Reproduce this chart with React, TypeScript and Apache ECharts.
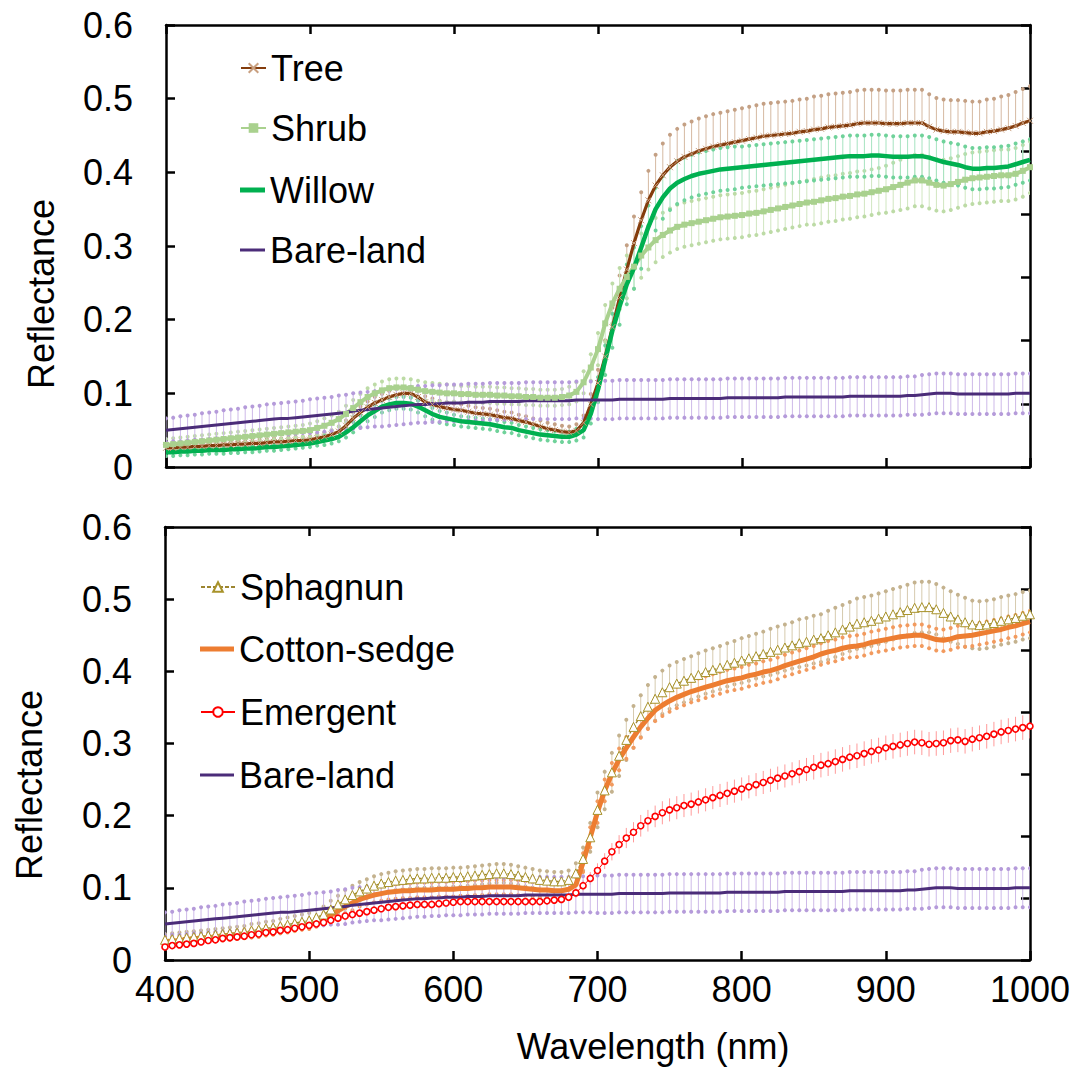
import React, { useEffect, useRef } from "react";
import * as echarts from "echarts";

// Wavelength sampling (nm)
const WL_START = 400;
const WL_STEP = 5;
const WL_COUNT = 121;
const wavelengths: number[] = Array.from({ length: WL_COUNT }, (_, i) => WL_START + i * WL_STEP);

// ---------- Top panel ----------
const treeMean = [
  .026, .026, .027, .027, .028, .028, .029, .029, .030, .030,
  .031, .031, .032, .032, .033, .034, .034, .035, .036, .036,
  .037, .039, .041, .044, .048, .056, .066, .074, .081, .087,
  .091, .095, .098, .100, .100, .095, .088, .085, .082, .080,
  .078, .077, .075, .073, .072, .071, .069, .067, .066, .063,
  .061, .058, .055, .052, .050, .048, .047, .049, .060, .085,
  .114, .150, .190, .230, .268, .304, .335, .362, .382, .396,
  .407, .415, .421, .425, .429, .432, .435, .437, .439, .441,
  .443, .445, .447, .449, .450, .451, .452, .453, .455, .456,
  .458, .459, .461, .462, .463, .464, .466, .467, .467, .467,
  .466, .466, .466, .467, .467, .467, .462, .458, .456, .455,
  .455, .454, .453, .453, .455, .456, .458, .460, .463, .467,
  .470,
];
const treeSd = [
  .004, .004, .004, .004, .004, .004, .004, .004, .004, .004,
  .004, .004, .004, .005, .005, .005, .005, .005, .005, .005,
  .005, .005, .006, .006, .007, .007, .008, .008, .008, .008,
  .008, .008, .008, .008, .008, .008, .008, .008, .008, .008,
  .008, .008, .008, .008, .008, .008, .008, .008, .008, .008,
  .008, .008, .008, .008, .008, .008, .008, .009, .010, .014,
  .018, .022, .026, .030, .033, .036, .038, .040, .042, .043,
  .044, .044, .044, .044, .044, .044, .044, .044, .044, .044,
  .044, .044, .044, .044, .044, .044, .044, .044, .044, .044,
  .045, .045, .045, .045, .045, .045, .045, .045, .045, .045,
  .045, .045, .045, .045, .045, .045, .044, .043, .043, .043,
  .043, .043, .043, .043, .044, .044, .045, .045, .046, .046,
  .047,
];
const shrubMean = [
  .030, .031, .032, .033, .034, .035, .036, .037, .038, .039,
  .040, .041, .042, .043, .044, .045, .046, .047, .048, .049,
  .050, .053, .056, .060, .065, .072, .080, .088, .095, .100,
  .104, .107, .108, .108, .107, .105, .103, .102, .101, .100,
  .100, .099, .099, .098, .098, .098, .097, .097, .096, .096,
  .095, .095, .094, .094, .094, .095, .097, .102, .115, .135,
  .160, .195, .222, .242, .258, .272, .287, .298, .308, .315,
  .321, .326, .329, .331, .333, .335, .337, .339, .340, .341,
  .342, .344, .345, .347, .349, .351, .353, .355, .357, .359,
  .360, .362, .364, .365, .367, .368, .370, .371, .373, .375,
  .377, .380, .383, .386, .389, .389, .386, .383, .382, .384,
  .387, .390, .392, .393, .394, .395, .396, .396, .398, .402,
  .407,
];
const shrubSd = [
  .008, .008, .008, .008, .008, .008, .008, .008, .008, .008,
  .008, .008, .008, .008, .008, .008, .008, .008, .008, .008,
  .009, .009, .010, .010, .010, .011, .011, .011, .012, .012,
  .012, .012, .012, .012, .012, .012, .012, .012, .012, .012,
  .011, .011, .011, .011, .011, .011, .011, .011, .011, .011,
  .011, .011, .011, .011, .011, .011, .012, .013, .015, .018,
  .022, .025, .027, .028, .029, .030, .030, .030, .030, .030,
  .030, .030, .030, .030, .030, .030, .030, .030, .030, .030,
  .030, .030, .030, .030, .030, .030, .030, .030, .030, .030,
  .031, .031, .031, .031, .031, .031, .031, .031, .031, .031,
  .032, .033, .034, .035, .035, .035, .035, .035, .035, .035,
  .035, .035, .035, .035, .035, .035, .035, .035, .035, .035,
  .035,
];
const willowMean = [
  .020, .020, .021, .021, .022, .022, .023, .023, .023, .024,
  .024, .025, .025, .026, .027, .027, .028, .029, .030, .031,
  .032, .034, .036, .038, .041, .047, .054, .062, .070, .076,
  .082, .085, .087, .087, .086, .082, .077, .072, .068, .066,
  .064, .062, .061, .060, .059, .058, .056, .054, .053, .050,
  .048, .046, .044, .043, .042, .041, .041, .044, .050, .072,
  .105, .145, .185, .218, .248, .270, .298, .326, .350, .366,
  .378, .386, .391, .395, .398, .400, .402, .404, .405, .406,
  .407, .408, .409, .410, .411, .412, .413, .414, .415, .416,
  .417, .418, .419, .420, .421, .422, .422, .422, .423, .423,
  .422, .421, .421, .421, .422, .422, .420, .417, .414, .412,
  .410, .407, .405, .405, .406, .406, .407, .408, .411, .414,
  .417,
];
const willowSd = [
  .005, .005, .005, .005, .005, .005, .005, .005, .005, .005,
  .005, .005, .005, .005, .005, .005, .005, .005, .005, .005,
  .005, .005, .006, .006, .006, .007, .007, .008, .008, .008,
  .008, .008, .008, .008, .008, .008, .008, .008, .008, .008,
  .007, .007, .007, .007, .007, .007, .007, .007, .007, .007,
  .007, .007, .007, .007, .007, .007, .007, .008, .010, .013,
  .017, .020, .023, .025, .027, .028, .029, .029, .029, .029,
  .029, .029, .029, .029, .029, .029, .029, .029, .029, .029,
  .028, .028, .028, .028, .028, .028, .028, .028, .028, .028,
  .028, .028, .028, .028, .028, .028, .028, .028, .028, .028,
  .028, .028, .028, .028, .028, .028, .028, .028, .028, .028,
  .028, .028, .028, .028, .028, .028, .028, .028, .028, .028,
  .028,
];
const bareMean = [
  .050, .051, .052, .053, .054, .055, .056, .057, .058, .059,
  .060, .061, .062, .063, .064, .065, .066, .066, .067, .068,
  .069, .070, .071, .072, .073, .074, .076, .077, .078, .079,
  .080, .081, .082, .083, .084, .085, .085, .086, .086, .087,
  .087, .087, .088, .088, .088, .089, .089, .089, .089, .089,
  .090, .090, .090, .090, .090, .090, .090, .091, .091, .091,
  .091, .091, .091, .092, .092, .092, .092, .092, .092, .092,
  .093, .093, .093, .093, .093, .093, .093, .093, .094, .094,
  .094, .094, .094, .094, .094, .094, .095, .095, .095, .095,
  .095, .095, .095, .095, .095, .096, .096, .096, .096, .096,
  .096, .096, .096, .097, .097, .098, .099, .100, .100, .100,
  .099, .099, .099, .099, .099, .099, .099, .099, .100, .100,
  .100,
];
const bareSd = [
  .016, .016, .017, .017, .017, .018, .018, .018, .019, .019,
  .019, .020, .020, .020, .021, .021, .021, .022, .022, .022,
  .023, .023, .023, .023, .024, .024, .024, .024, .024, .024,
  .025, .025, .025, .025, .025, .025, .025, .025, .025, .025,
  .025, .025, .025, .025, .025, .025, .025, .025, .025, .025,
  .025, .025, .025, .025, .025, .025, .025, .025, .025, .025,
  .026, .026, .026, .026, .026, .026, .026, .026, .026, .026,
  .026, .026, .026, .026, .026, .026, .026, .026, .026, .026,
  .026, .026, .026, .026, .026, .026, .026, .026, .026, .026,
  .026, .026, .026, .026, .026, .026, .026, .026, .026, .026,
  .026, .026, .026, .026, .026, .027, .027, .027, .027, .027,
  .027, .027, .027, .027, .027, .027, .027, .027, .027, .027,
  .027,
];

// ---------- Bottom panel ----------
const sphagMean = [
  .028, .029, .030, .031, .032, .033, .034, .035, .036, .037,
  .038, .039, .041, .042, .044, .045, .047, .049, .051, .053,
  .055, .059, .063, .070, .077, .084, .090, .095, .099, .103,
  .106, .108, .110, .111, .112, .113, .113, .114, .114, .114,
  .115, .115, .116, .117, .118, .119, .120, .120, .119, .117,
  .115, .113, .111, .110, .109, .109, .111, .120, .140, .170,
  .208, .235, .260, .283, .305, .323, .338, .351, .362, .371,
  .378, .383, .387, .391, .395, .399, .402, .405, .409, .412,
  .415, .418, .421, .424, .427, .430, .433, .436, .439, .441,
  .444, .446, .450, .454, .458, .462, .466, .468, .470, .473,
  .476, .479, .482, .485, .488, .489, .489, .486, .481, .476,
  .472, .468, .465, .464, .465, .467, .470, .472, .474, .477,
  .479,
];
const sphagSd = [
  .008, .008, .008, .008, .008, .008, .008, .008, .008, .008,
  .008, .008, .009, .009, .009, .009, .010, .010, .010, .010,
  .010, .011, .011, .012, .012, .013, .013, .013, .013, .013,
  .013, .013, .013, .013, .013, .013, .013, .013, .013, .013,
  .013, .013, .013, .013, .013, .013, .013, .013, .013, .013,
  .013, .013, .013, .013, .013, .013, .013, .014, .016, .020,
  .024, .026, .027, .028, .028, .029, .029, .030, .030, .030,
  .030, .030, .030, .030, .030, .030, .030, .030, .030, .030,
  .031, .031, .031, .031, .032, .032, .032, .032, .033, .033,
  .033, .033, .034, .034, .034, .034, .035, .035, .035, .035,
  .035, .035, .035, .035, .035, .035, .035, .035, .035, .035,
  .034, .034, .033, .033, .033, .033, .033, .033, .033, .033,
  .033,
];
const cottonMean = [
  .025, .026, .027, .028, .029, .030, .031, .032, .033, .034,
  .035, .036, .037, .038, .040, .041, .043, .044, .046, .048,
  .050, .053, .057, .062, .068, .074, .079, .084, .087, .090,
  .092, .094, .095, .096, .096, .097, .097, .097, .098, .098,
  .098, .099, .099, .100, .100, .101, .101, .101, .101, .100,
  .099, .098, .097, .097, .096, .096, .098, .104, .135, .170,
  .205, .235, .258, .278, .294, .309, .323, .335, .346, .353,
  .359, .364, .368, .372, .375, .378, .381, .384, .387, .389,
  .391, .394, .396, .399, .401, .404, .408, .411, .414, .417,
  .420, .424, .427, .429, .432, .434, .435, .437, .440, .442,
  .444, .446, .448, .449, .450, .450, .447, .444, .443, .445,
  .448, .449, .450, .452, .454, .456, .458, .461, .463, .466,
  .469,
];
const cottonSd = [
  .006, .006, .006, .006, .006, .006, .006, .006, .006, .006,
  .006, .006, .006, .006, .006, .006, .006, .006, .006, .006,
  .007, .007, .008, .008, .009, .009, .010, .010, .010, .010,
  .010, .010, .010, .010, .010, .010, .010, .010, .010, .010,
  .010, .010, .010, .010, .010, .010, .010, .010, .010, .010,
  .010, .010, .010, .010, .010, .010, .010, .011, .013, .014,
  .015, .015, .015, .015, .015, .015, .015, .015, .015, .015,
  .015, .015, .015, .015, .015, .015, .015, .015, .015, .015,
  .015, .015, .015, .015, .015, .015, .015, .015, .015, .015,
  .015, .015, .015, .015, .015, .015, .015, .015, .015, .015,
  .015, .015, .015, .015, .015, .015, .015, .015, .015, .015,
  .015, .015, .015, .015, .015, .015, .015, .015, .015, .015,
  .015,
];
const emergMean = [
  .018, .020, .021, .022, .023, .025, .027, .028, .030, .031,
  .032, .033, .035, .036, .038, .039, .041, .042, .044, .046,
  .048, .050, .052, .055, .058, .061, .063, .065, .067, .069,
  .071, .073, .074, .075, .076, .077, .077, .077, .078, .079,
  .080, .081, .081, .081, .081, .081, .081, .081, .081, .081,
  .081, .081, .081, .082, .083, .084, .087, .093, .103, .113,
  .124, .137, .150, .160, .169, .177, .186, .193, .199, .204,
  .208, .211, .214, .216, .219, .222, .225, .228, .231, .234,
  .237, .240, .243, .246, .249, .252, .255, .258, .261, .264,
  .267, .270, .272, .275, .278, .281, .283, .286, .289, .291,
  .294, .296, .298, .300, .302, .301, .299, .300, .301, .304,
  .305, .303, .306, .308, .310, .313, .316, .318, .320, .322,
  .324,
];
const emergSd = [
  .004, .004, .004, .004, .004, .004, .004, .004, .004, .004,
  .004, .004, .004, .004, .004, .004, .004, .004, .004, .004,
  .004, .005, .005, .005, .005, .005, .005, .005, .005, .005,
  .005, .005, .005, .005, .005, .005, .005, .005, .005, .005,
  .005, .005, .005, .005, .005, .005, .005, .005, .005, .005,
  .005, .005, .005, .005, .005, .005, .006, .007, .008, .009,
  .010, .011, .012, .013, .014, .014, .015, .015, .015, .016,
  .016, .016, .016, .016, .016, .016, .016, .016, .016, .016,
  .016, .016, .016, .016, .016, .016, .016, .016, .016, .016,
  .017, .017, .017, .017, .017, .017, .017, .017, .017, .017,
  .017, .017, .017, .017, .017, .017, .017, .017, .017, .017,
  .017, .017, .017, .017, .017, .017, .017, .017, .017, .017,
  .017,
];

const FONT = '"Liberation Sans", Arial, Helvetica, sans-serif';
const FS = 36;

function pts(vals: number[]) {
  return wavelengths.map((w, i) => [w, vals[i]]);
}

function errSeries(mean: number[], sd: number[], axis: number, color: string, capColor: string, plusOnly: boolean, caps: boolean) {
  return {
    type: "custom",
    xAxisIndex: axis,
    yAxisIndex: axis,
    silent: true,
    clip: true,
    encode: { x: 0, y: [1, 2] },
    data: wavelengths.map((w, i) => [w, plusOnly ? mean[i] : mean[i] - sd[i], mean[i] + sd[i]]),
    renderItem: (params: any, api: any) => {
      const x = api.value(0);
      const lo = api.coord([x, api.value(1)]);
      const hi = api.coord([x, api.value(2)]);
      const children: any[] = [
        { type: "line", shape: { x1: lo[0], y1: lo[1], x2: hi[0], y2: hi[1] }, style: { stroke: color, lineWidth: 1 } },
      ];
      if (caps) {
        children.push({ type: "circle", shape: { cx: hi[0], cy: hi[1], r: 2 }, style: { fill: capColor } });
        if (!plusOnly) children.push({ type: "circle", shape: { cx: lo[0], cy: lo[1], r: 2 }, style: { fill: capColor } });
      }
      return { type: "group", children };
    },
  };
}

function lineSeries(name: string, vals: number[], axis: number, extra: any) {
  return {
    type: "line",
    name,
    xAxisIndex: axis,
    yAxisIndex: axis,
    data: pts(vals),
    showAllSymbol: true,
    symbol: "none",
    ...extra,
  };
}

function xAxisDef(grid: number, position: string, labels: boolean) {
  return {
    gridIndex: grid,
    type: "value",
    min: 400,
    max: 1000,
    interval: 100,
    position,
    axisLine: { show: true, onZero: false, lineStyle: { color: "#000", width: 2.5 } },
    axisTick: { show: true, inside: true, length: 9, lineStyle: { color: "#000", width: 2.5 } },
    axisLabel: { show: labels, fontSize: FS, color: "#000", fontFamily: FONT, margin: 11, formatter: (v: number) => String(v) },
    splitLine: { show: false },
  };
}

function yAxisDef(grid: number, position: string, labels: boolean, max: number) {
  return {
    gridIndex: grid,
    type: "value",
    min: 0,
    max,
    interval: 0.1,
    position,
    axisLine: { show: true, onZero: false, lineStyle: { color: "#000", width: 2.5 } },
    axisTick: { show: true, inside: true, length: 9, lineStyle: { color: "#000", width: 2.5 } },
    axisLabel: {
      show: labels,
      fontSize: FS,
      color: "#000",
      fontFamily: FONT,
      margin: 33,
      formatter: (v: number) => (Math.abs(v) < 1e-9 ? "0" : v.toFixed(1)),
    },
    splitLine: { show: false },
  };
}

function legendDef(name: string, left: number, top: number, itemWidth: number, icon?: string, itemHeight?: number) {
  return {
    data: [icon ? { name, icon } : name],
    left,
    top,
    orient: "vertical",
    itemWidth,
    itemHeight: itemHeight ?? 12,
    padding: 0,
    itemGap: 0,
    selectedMode: false,
    textStyle: { fontSize: FS, color: "#000", fontFamily: FONT, lineHeight: FS },
  };
}

const TREE = "#843C0C";
const SHRUB = "#A9D18E";
const WILLOW = "#00B050";
const BARE = "#4B2C79";
const SPHAG = "#9C8530";
const COTTON = "#ED7D31";
const EMERG = "#FF0000";

export default function App() {
  const ref = useRef<HTMLDivElement>(null);
  useEffect(() => {
    if (!ref.current) return;
    const chart = echarts.init(ref.current, null, { renderer: "svg" });
    const option: any = {
      animation: false,
      backgroundColor: "#fff",
      grid: [
        { left: 166, top: 25, width: 864, height: 442 },
        { left: 165, top: 527, width: 865, height: 433 },
      ],
      xAxis: [
        xAxisDef(0, "bottom", false),
        xAxisDef(0, "top", false),
        xAxisDef(1, "bottom", true),
        xAxisDef(1, "top", false),
      ],
      yAxis: [
        yAxisDef(0, "left", true, 0.6),
        yAxisDef(0, "right", false, 0.7),
        yAxisDef(1, "left", true, 0.6),
        yAxisDef(1, "right", false, 0.7),
      ],
      legend: [
        legendDef("Tree", 240, 50, 25),
        legendDef("Shrub", 240, 110, 25),
        legendDef("Willow", 240, 172, 25, "rect", 5),
        legendDef("Bare-land", 240, 232, 25, "rect", 3),
        legendDef("Sphagnun", 200, 569, 34),
        legendDef("Cotton-sedge", 200, 631, 34, "rect", 5),
        legendDef("Emergent", 200, 694, 34),
        legendDef("Bare-land", 200, 757, 34, "rect", 3),
      ],
      graphic: [
        {
          type: "text",
          x: 41,
          y: 294,
          rotation: Math.PI / 2,
          style: { text: "Reflectance", fontSize: FS, fontFamily: FONT, fill: "#000", textAlign: "center", textVerticalAlign: "middle" },
        },
        {
          type: "text",
          x: 29,
          y: 785,
          rotation: Math.PI / 2,
          style: { text: "Reflectance", fontSize: FS, fontFamily: FONT, fill: "#000", textAlign: "center", textVerticalAlign: "middle" },
        },
        {
          type: "text",
          x: 653,
          y: 1046,
          style: { text: "Wavelength (nm)", fontSize: FS, fontFamily: FONT, fill: "#000", textAlign: "center", textVerticalAlign: "middle" },
        },
      ],
      series: [
        // top panel
        errSeries(treeMean, treeSd, 0, "#D5B9A2", "#C4A084", true, true),
        lineSeries("Tree", treeMean, 0, {
          symbol: "path://M0,0L10,10M10,0L0,10",
          symbolSize: 6,
          itemStyle: { color: "rgba(0,0,0,0)", borderColor: "#C9A080", borderWidth: 1 },
          lineStyle: { color: TREE, width: 3.2 },
          color: TREE,
        }),
        errSeries(shrubMean, shrubSd, 0, "#D0E6C0", "#BDDBA6", false, true),
        lineSeries("Shrub", shrubMean, 0, {
          symbol: "rect",
          symbolSize: 6,
          itemStyle: { color: SHRUB },
          lineStyle: { color: SHRUB, width: 4 },
          color: SHRUB,
        }),
        errSeries(willowMean, willowSd, 0, "#A6E3C0", "#6FD29A", false, true),
        lineSeries("Willow", willowMean, 0, {
          lineStyle: { color: WILLOW, width: 4.5 },
          itemStyle: { color: WILLOW },
          color: WILLOW,
        }),
        errSeries(bareMean, bareSd, 0, "#CDB9E8", "#B59BDA", false, true),
        lineSeries("Bare-land", bareMean, 0, {
          lineStyle: { color: BARE, width: 3 },
          itemStyle: { color: BARE },
          color: BARE,
        }),
        // bottom panel
        errSeries(sphagMean, sphagSd, 2, "#D6CAAE", "#C4B28E", false, true),
        lineSeries("Sphagnun", sphagMean, 2, {
          symbol: "triangle",
          symbolSize: 9,
          itemStyle: { color: "#fff", borderColor: "#A8922A", borderWidth: 1 },
          lineStyle: { color: SPHAG, width: 1.3, type: [4, 2] },
          color: SPHAG,
        }),
        errSeries(cottonMean, cottonSd, 2, "#F8C6A4", "#F29A5E", false, true),
        lineSeries("Cotton-sedge", cottonMean, 2, {
          lineStyle: { color: COTTON, width: 5 },
          itemStyle: { color: COTTON },
          color: COTTON,
        }),
        errSeries(emergMean, emergSd, 2, "#FF9A9A", "#FF9A9A", false, false),
        lineSeries("Emergent", emergMean, 2, {
          symbol: "circle",
          symbolSize: 6,
          itemStyle: { color: "#fff", borderColor: EMERG, borderWidth: 1.6 },
          lineStyle: { color: EMERG, width: 1 },
          color: EMERG,
        }),
        errSeries(bareMean, bareSd, 2, "#CDB9E8", "#B59BDA", false, true),
        lineSeries("Bare-land", bareMean, 2, {
          lineStyle: { color: BARE, width: 3 },
          itemStyle: { color: BARE },
          color: BARE,
        }),
      ],
    };
    chart.setOption(option);
    return () => chart.dispose();
  }, []);
  return (
    <div
      ref={ref}
      style={{ position: "fixed", left: 0, top: 0, width: 1073, height: 1068, background: "#fff" }}
    />
  );
}
